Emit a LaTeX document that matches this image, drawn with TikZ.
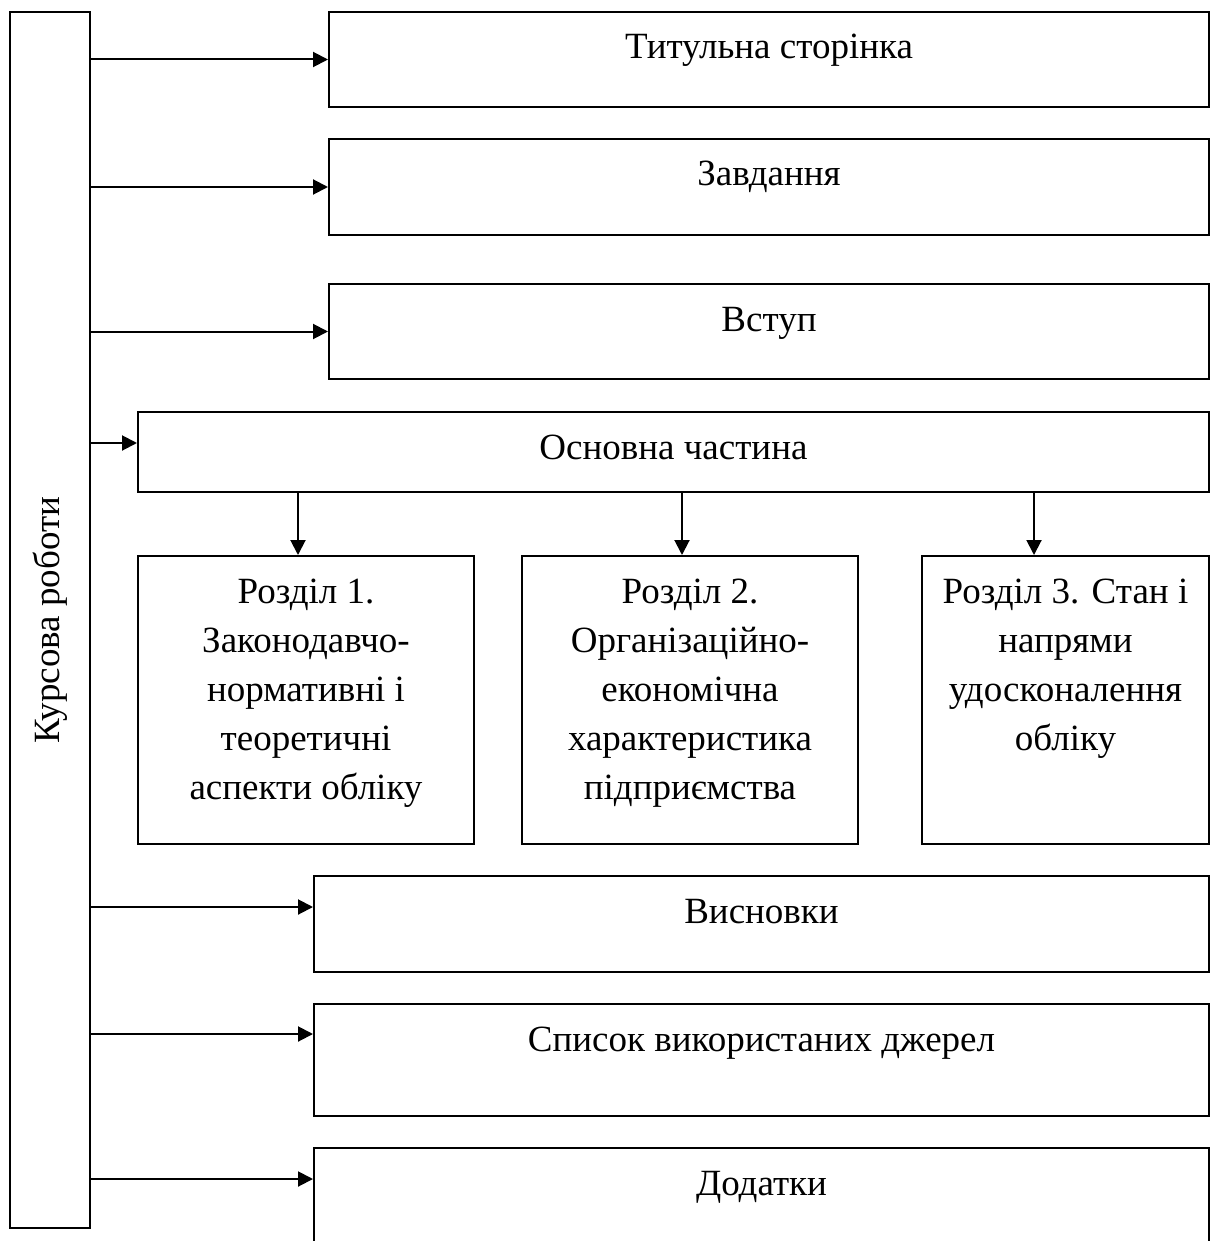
\documentclass[tikz,border=0pt]{standalone}
\usepackage{fontspec}
\setmainfont{Liberation Serif}
\usetikzlibrary{arrows.meta, positioning}
\newcommand{\blocktext}[3]{\parbox[t][#2][t]{#1}{\centering\rule{0pt}{23.5pt}#3}}

\begin{document}
\begin{tikzpicture}[->,>={Triangle[length=7.5pt,width=7.5pt]},x=0.5pt,y=-0.5pt,line width=1pt]
    \tikzstyle{every node}=[font=\fontsize{18.5pt}{24.5pt}\selectfont]
    \tikzstyle{block}=[shape=rectangle, draw=black, fill=none, text=black, inner sep=0pt, anchor=north west]

    \useasboundingbox (0,0) rectangle (1209,1241);

    \node[block, minimum width=40pt, minimum height=608pt] (kr) at (9,11) {\rotatebox{90}{Курсова роботи}};

        \node[block]  (tit) at (328,11)  {\blocktext{440pt}{47.5pt}{Титульна сторінка}};
        \node[block]  (zav) at (328,138) {\blocktext{440pt}{48pt}{Завдання}};
        \node[block]  (vst) at (328,283) {\blocktext{440pt}{47.5pt}{Вступ}};

        \node[block]  (osn) at (137,411) {\blocktext{535.5pt}{40pt}{Основна частина}};
            \node[block]  (r1) at (137,555) {\blocktext{168pt}{144pt}{Розділ 1.\\ Законодавчо-\\ нормативні і\\ теоретичні\\ аспекти обліку}};
            \node[block]  (r2) at (521,555) {\blocktext{168pt}{144pt}{Розділ 2.\\ Організаційно-\\ економічна\\ характеристика\\ підприємства}};
            \node[block]  (r3) at (921,555) {\blocktext{143.5pt}{144pt}{Розділ 3. Стан і\\ напрями\\ удосконалення\\ обліку}};

        \node[block]  (vys) at (313,875)  {\blocktext{447.5pt}{48pt}{Висновки}};
        \node[block]  (sps) at (313,1003) {\blocktext{447.5pt}{56pt}{Список використаних джерел}};
        \node[block]  (dod) at (313,1147) {\blocktext{447.5pt}{56pt}{Додатки}};

    %arrow ends
    \coordinate (a4) at ([yshift=-16pt]osn.north west);
    \coordinate (a5) at ([yshift=-16pt]vys.north west);
    \coordinate (a6) at ([yshift=-15.5pt]sps.north west);
    \coordinate (a7) at ([yshift=-16pt]dod.north west);
    \coordinate (d1) at ([xshift=-4pt]r1.north);
    \coordinate (d2) at ([xshift=-4pt]r2.north);
    \coordinate (d3) at ([xshift=-15.75pt]r3.north);

    \path
    (kr.east |- tit.west) edge (tit.west)
    (kr.east |- zav.west) edge (zav.west)
    (kr.east |- vst.west) edge (vst.west)
    (kr.east |- a4)       edge (a4)
    (kr.east |- a5)       edge (a5)
    (kr.east |- a6)       edge (a6)
    (kr.east |- a7)       edge (a7)
    (d1 |- osn.south)     edge (d1)
    (d2 |- osn.south)     edge (d2)
    (d3 |- osn.south)     edge (d3)
    ;

\end{tikzpicture}
\end{document}
